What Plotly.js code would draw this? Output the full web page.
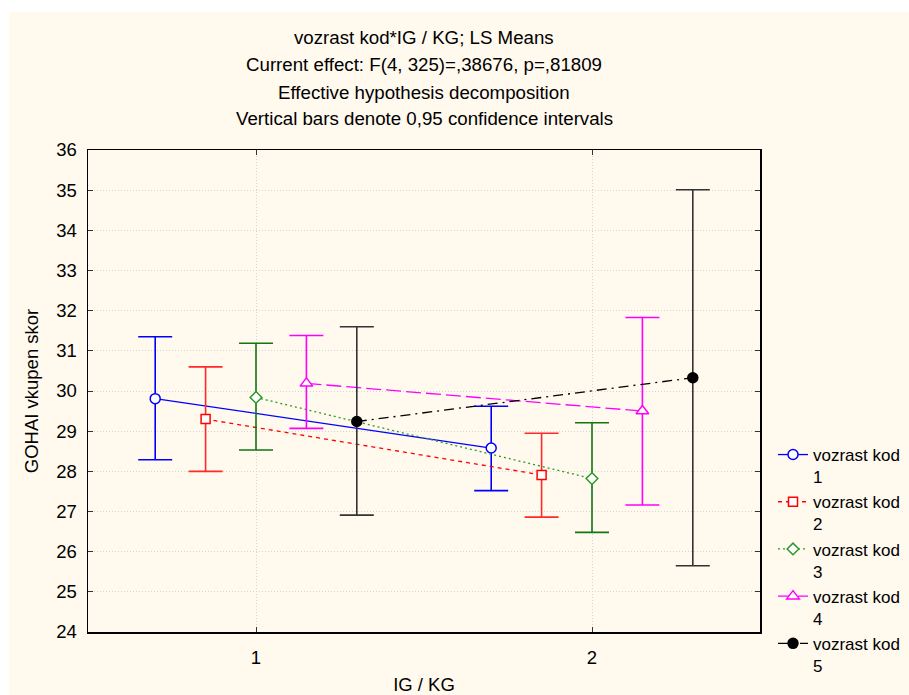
<!DOCTYPE html>
<html>
<head>
<meta charset="utf-8">
<script src="https://cdn.plot.ly/plotly-3.0.1.min.js"></script>
<style>html,body{margin:0;padding:0;background:#fff;}#chart{width:909px;height:695px;}</style>
</head>
<body>
<div id="chart"></div>
<script>
// ---- data ----
const categories = ['1', '2'];          // IG / KG levels
const categoryPos = [1, 2];
const seriesNames = ['vozrast kod<br>1', 'vozrast kod<br>2', 'vozrast kod<br>3', 'vozrast kod<br>4', 'vozrast kod<br>5'];
const means1 = [29.81, 28.58];
const upper1 = [31.35, 29.62];
const lower1 = [28.29, 27.52];
const means2 = [29.30, 27.91];
const upper2 = [30.60, 28.95];
const lower2 = [28.00, 26.86];
const means3 = [29.84, 27.82];
const upper3 = [31.19, 29.21];
const lower3 = [28.53, 26.48];
const means4 = [30.19, 29.50];
const upper4 = [31.38, 31.83];
const lower4 = [29.07, 27.16];
const means5 = [29.24, 30.33];
const upper5 = [31.60, 35.01];
const lower5 = [26.91, 25.65];
const yTicks = [24, 25, 26, 27, 28, 29, 30, 31, 32, 33, 34, 35, 36];
const titleLines = [
  'vozrast kod*IG / KG; LS Means',
  'Current effect: F(4, 325)=,38676, p=,81809',
  'Effective hypothesis decomposition',
  'Vertical bars denote 0,95 confidence intervals'
];

// ---- styles ----
const FONT = 'Liberation Sans, Arial, sans-serif';
const allMeans = [means1, means2, means3, means4, means5];
const allUpper = [upper1, upper2, upper3, upper4, upper5];
const allLower = [lower1, lower2, lower3, lower4, lower5];
const styles = [
  {color: '#0000ff', ecolor: '#0000ff', dash: 'solid', symbol: 'circle', fill: '#ffffff', size: 10},
  {color: '#ff0000', ecolor: '#ff2a2a', dash: '4px,4px', symbol: 'square', fill: '#ffffff', size: 9},
  {color: '#2a9a2a', ecolor: '#117711', dash: '2px,3px', symbol: 'diamond', fill: '#ffffff', size: 9},
  {color: '#ff00ff', ecolor: '#ff00ff', dash: '15px,5px', symbol: 'triangle-up', fill: '#ffffff', size: 11},
  {color: '#000000', ecolor: '#333333', dash: '10px,5px,2px,5px', symbol: 'circle', fill: '#000000', size: 10}
];
const offsets = [-0.3, -0.15, 0, 0.15, 0.3];

const traces = allMeans.map((m, i) => {
  const s = styles[i];
  return {
    type: 'scatter',
    mode: 'lines+markers',
    name: seriesNames[i],
    x: categoryPos.map(c => c + offsets[i]),
    y: m,
    line: {color: s.color, width: 1.3, dash: s.dash},
    marker: {symbol: s.symbol, size: s.size, color: s.fill, line: {color: s.color, width: 1.5}},
    error_y: {
      type: 'data', symmetric: false,
      array: allUpper[i].map((u, k) => u - m[k]),
      arrayminus: m.map((v, k) => v - allLower[i][k]),
      color: s.ecolor, thickness: 1.6, width: 17
    }
  };
});

// plot area in pixels: left 88, right 760, top 150, bottom 632
const plotL = 88, plotR = 760, plotT = 150, plotB = 632;
const pw = plotR - plotL, ph = plotB - plotT;
const titleY = [38, 65, 92, 118];
const annotations = titleLines.map((t, i) => ({
  text: t, xref: 'paper', yref: 'paper', x: 0.5, y: (plotB - titleY[i]) / ph,
  xanchor: 'center', yanchor: 'middle', showarrow: false,
  font: {family: FONT, size: 18.7, color: '#000'}
}));

const axisCommon = {
  showline: true, linecolor: '#000', linewidth: 1.5, mirror: 'ticks',
  ticks: 'inside', ticklen: 5, tickcolor: '#333', tickwidth: 1,
  showgrid: true, gridcolor: '#d4d4d4', gridwidth: 1, griddash: '1px,2px',
  zeroline: false, tickfont: {family: FONT, size: 18.5, color: '#000'}
};

const layout = {
  width: 909, height: 695,
  margin: {l: plotL, r: 909 - plotR, t: plotT, b: 695 - plotB, autoexpand: false},
  paper_bgcolor: '#ffffff', plot_bgcolor: '#ffffff',
  showlegend: true,
  xaxis: Object.assign({}, axisCommon, {
    range: [0.5, 2.5], tickmode: 'array', tickvals: categoryPos, ticktext: categories,
    ticklabelstandoff: 8,
    title: {text: 'IG / KG', font: {family: FONT, size: 18.5, color: '#000'}, standoff: 14}
  }),
  yaxis: Object.assign({}, axisCommon, {
    range: [24, 36], tickmode: 'array', tickvals: yTicks, ticktext: yTicks.map(String),
    ticklabelstandoff: 6,
    title: {text: 'GOHAI vkupen skor', font: {family: FONT, size: 18.5, color: '#000'}, standoff: 12}
  }),
  legend: {
    x: (773 - plotL) / pw, y: (plotB - 437) / ph, xanchor: 'left', yanchor: 'top',
    bgcolor: 'rgba(0,0,0,0)', borderwidth: 0, valign: 'top', tracegroupgap: 0,
    font: {family: FONT, size: 17, color: '#000'}, itemwidth: 30
  },
  annotations: annotations,
  shapes: [{
    type: 'rect', xref: 'paper', yref: 'paper', layer: 'below',
    x0: (9 - plotL) / pw, x1: (915 - plotL) / pw,
    y0: (plotB - 700) / ph, y1: (plotB - 12) / ph,
    fillcolor: '#fff9ee', line: {width: 0}
  }]
};

Plotly.newPlot('chart', traces, layout, {displayModeBar: false, staticPlot: true});
</script>
</body>
</html>
